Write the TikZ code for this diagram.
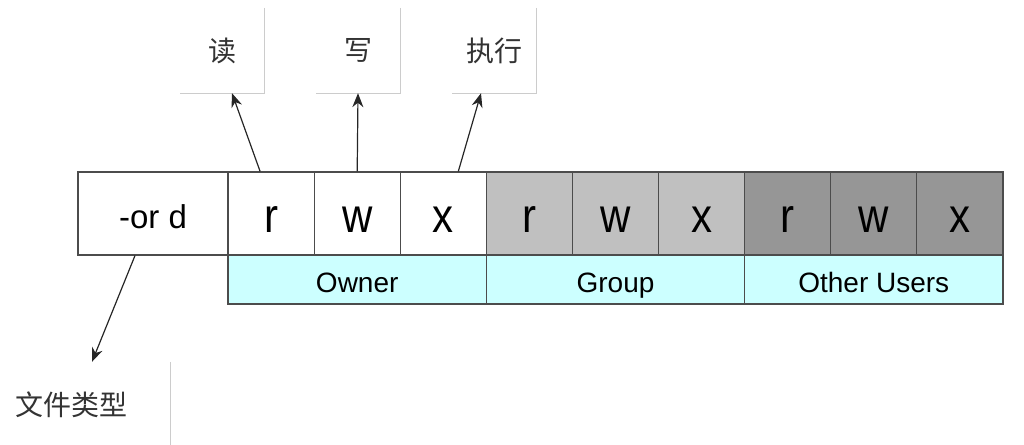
\documentclass[tikz,border=0pt]{standalone}
\usepackage{fontspec}
\setmainfont{Liberation Sans}
\newfontfamily\cjk{Noto Sans CJK SC}
\usepackage{xcolor}
\usepackage{graphicx}
\usepackage{tikz}
\usetikzlibrary{arrows.meta, positioning, calc}

\definecolor{rolecyan}{HTML}{CCFFFF}
\definecolor{grpgray}{HTML}{C0C0C0}
\definecolor{othgray}{HTML}{969696}
\newcommand{\tallbit}[1]{\scalebox{1}[1.15]{#1}}

\begin{document}
\begin{tikzpicture}[
    x=1pt, y=-1pt, >={Stealth[length=14pt, width=11pt]},
    bitcell/.style={draw=black!70, line width=1.2pt, fill=#1,
        minimum width=86.1pt, minimum height=83pt, inner sep=0pt,
        text height=37pt, text depth=0pt,
        font=\fontsize{42}{42}\selectfont},
    typecell/.style={draw=black!70, line width=1.2pt, fill=white,
        minimum width=150pt, minimum height=83pt, inner sep=0pt,
        text height=29pt, text depth=0pt,
        font=\fontsize{33}{33}\selectfont},
    rolebox/.style={draw=black!70, line width=1.2pt, fill=rolecyan,
        minimum width=258.3pt, minimum height=49pt, inner sep=0pt,
        text height=25pt, text depth=0pt,
        font=\fontsize{28}{28}\selectfont},
    labelbox/.style={minimum width=84pt, minimum height=85pt, inner sep=0pt,
        text=black!80, font=\cjk\fontsize{28}{28}\selectfont},
    edgeline/.style={draw=black!20, line width=1pt},
    arr/.style={->, line width=1.2pt, black!85},
]
\useasboundingbox (0,0) rectangle (1024,444);

%% ========== PERMISSION ROW ==========
\node[typecell] (type) at (153, 213.5) {-or d};
\node[bitcell=white] (ur) at (271.1, 213.5) {\tallbit{r}};
\node[bitcell=white] (uw) at (357.2, 213.5) {\tallbit{w}};
\node[bitcell=white] (ux) at (443.3, 213.5) {\tallbit{x}};
\node[bitcell=grpgray] (gr) at (529.4, 213.5) {\tallbit{r}};
\node[bitcell=grpgray] (gw) at (615.5, 213.5) {\tallbit{w}};
\node[bitcell=grpgray] (gx) at (701.6, 213.5) {\tallbit{x}};
\node[bitcell=othgray] (or) at (787.7, 213.5) {\tallbit{r}};
\node[bitcell=othgray] (ow) at (873.8, 213.5) {\tallbit{w}};
\node[bitcell=othgray] (ox) at (959.9, 213.5) {\tallbit{x}};

%% ========== ROLE ROW ==========
\node[rolebox] (owner) at (357.2, 279.5) {Owner};
\node[rolebox] (group) at (615.5, 279.5) {Group};
\node[rolebox] (other) at (873.8, 279.5) {Other Users};

%% ========== LABELS ==========
\node[labelbox] (read) at (222, 50.5) {读};
\node[labelbox] (write) at (358, 50.5) {写};
\node[labelbox] (exec) at (494, 50.5) {执行};
\node[labelbox, minimum width=170pt, text width=140pt, inner xsep=15pt,
    align=left] (ftype) at (85, 404.5) {文件类型};

\foreach \n in {read, write, exec, ftype}
    \draw[edgeline] (\n.north east) -- (\n.south east) -- (\n.south west);

%% ========== ARROWS ==========
\draw[arr] ([xshift=-11pt]ur.north) -- ([xshift=10pt]read.south);
\draw[arr] (uw.north) -- (write.south);
\draw[arr] ([xshift=15pt]ux.north) -- ([xshift=-13pt]exec.south);
\draw[arr] ([xshift=-18pt]type.south) -- ([xshift=7pt]ftype.north);
\end{tikzpicture}
\end{document}
